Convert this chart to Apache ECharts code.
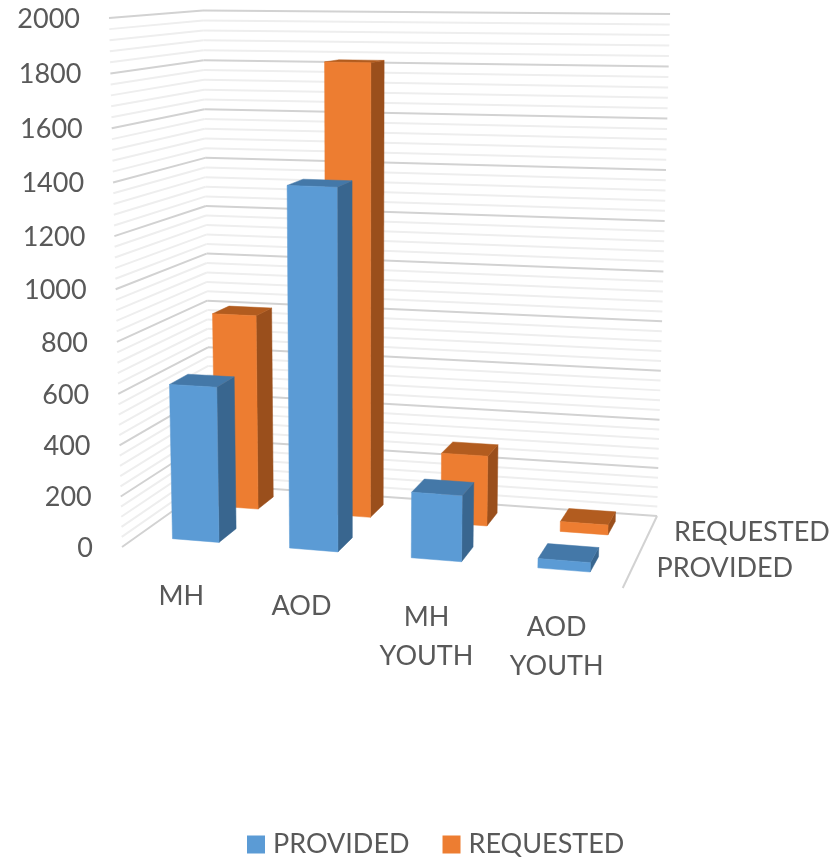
<!DOCTYPE html>
<html><head><meta charset="utf-8">
<style>html,body{margin:0;padding:0;background:#fff}#c{width:833px;height:860px}</style>
<script src="https://cdn.jsdelivr.net/npm/echarts@6/dist/echarts.min.js"></script>
</head><body><div id="c"></div>
<script>
const categories = ['MH', 'AOD', 'MH\nYOUTH', 'AOD\nYOUTH'];
const depthNames = ['PROVIDED', 'REQUESTED'];
const provided = [612, 1390, 255, 36];
const requested = [802, 1812, 285, 40];
const yTicks = [0, 200, 400, 600, 800, 1000, 1200, 1400, 1600, 1800, 2000];
const yMax = 2000;
const minorStep = 40;

const FONT = 'Lato';
const TXT = '#595959';
const MAJOR = '#d2d2d2', MINOR = '#eeeeee';

// Oblique view: floor quad homography, wall height vectors, slight vertical perspective.
const H = {a:452.9,b:114.46,c:122,d:-4.16,e:-1.45,f:547,g:-0.0768,h:0.126};
const HT = {fl:529,fr:560,bl:474,br:502};
const DX = {fl:-13,fr:14,bl:-7,br:13};
const BAR_W = 0.1005, BAR_D = 0.203, U_OFF = [0.0015, -0.002], V_START = [0.161, 0.67];
function lerp2(o,u,v){return (o.fl*(1-u)+o.fr*u)*(1-v)+(o.bl*(1-u)+o.br*u)*v;}
function proj(u,v,t){
  const w=H.g*u+H.h*v+1;
  const x=(H.a*u+H.b*v+H.c)/w, y=(H.d*u+H.e*v+H.f)/w;
  const p=t*0.95/(1-0.05*t);
  return [x+lerp2(DX,u,v)*p, y-lerp2(HT,u,v)*p];
}
// normalised axis positions
function tOf(api,val){return 1-api.coord([0,val])[1]/api.getHeight();}
function uOf(api,val){return api.coord([val,0])[0]/api.getWidth();}
const poly=(pts,fill)=>({type:'polygon',shape:{points:pts},style:{fill,stroke:fill,lineWidth:0.5}});
const seg=(a,b,c,w)=>({type:'line',shape:{x1:a[0],y1:a[1],x2:b[0],y2:b[1]},style:{stroke:c,lineWidth:w}});

function barSeries(name,values,row,front,side,top){
  return {name,type:'custom',coordinateSystem:'cartesian2d',itemStyle:{color:front},silent:true,
    data:values.map((v,i)=>[i,v]),
    encode:{x:0,y:1},clip:false,
    renderItem(params,api){
      const i=api.value(0),t=tOf(api,api.value(1));
      const c=uOf(api,(i+0.5)/categories.length+U_OFF[row]);
      const w=row===1?BAR_W*0.97:BAR_W;
      const u0=c-w/2,u1=c+w/2,v0=V_START[row],v1=v0+BAR_D;
      const A=proj(u0,v0,0),B=proj(u1,v0,0),C=proj(u1,v1,0);
      const A2=proj(u0,v0,t),B2=proj(u1,v0,t),C2=proj(u1,v1,t),D2=proj(u0,v1,t);
      return {type:'group',children:[
        poly([B,C,C2,B2],side),poly([A2,B2,C2,D2],top),poly([A,B,B2,A2],front)]};
    }};
}
const majorSet=new Set(yTicks);
const gridVals=[];for(let y=0;y<=yMax;y+=minorStep)gridVals.push(y);
const option={
  animation:false,
  textStyle:{fontFamily:FONT},
  grid:{left:0,right:0,top:0,bottom:0,containLabel:false},
  xAxis:{type:'value',min:0,max:1,show:false},
  yAxis:{type:'value',min:0,max:yMax,show:false},
  legend:{data:depthNames,left:242,top:826,icon:'rect',itemWidth:18,itemHeight:18,itemGap:33,
    textStyle:{fontFamily:FONT,fontSize:27,color:TXT,padding:[0,0,0,3]}},
  series:[
    {type:'custom',silent:true,clip:false,data:gridVals.map(v=>[0,v]),encode:{x:0,y:1},
     renderItem(p,api){
       const val=api.value(1),t=tOf(api,val),maj=majorSet.has(val);
       return {type:'group',children:[
         seg(proj(0,0,t),proj(0,1,t),maj?MAJOR:MINOR,2),
         seg(proj(0,1,t),proj(1,1,t),maj?MAJOR:MINOR,2)]};
     }},
    {type:'custom',silent:true,clip:false,data:[[0,0]],encode:{x:0,y:1},
     renderItem(p,api){return seg(proj(1,1,0),proj(1,0,0),MAJOR,2);}},
    {type:'custom',silent:true,clip:false,data:yTicks.map(v=>[0,v]),encode:{x:0,y:1},
     renderItem(p,api){
       const val=api.value(1),q=proj(0,0,tOf(api,val));
       return {type:'text',x:q[0]-29,y:q[1]+1,style:{text:String(val),font:'27px '+FONT,fill:TXT,textAlign:'right',textVerticalAlign:'middle'}};
     }},
    {type:'custom',silent:true,clip:false,data:categories.map((c,i)=>[i,0]),encode:{x:0,y:1},
     renderItem(p,api){
       const i=api.value(0),q=proj(uOf(api,(i+0.5)/categories.length),0,0);
       return {type:'text',x:q[0]+1,y:q[1]+25.5,style:{text:categories[i],font:'27px '+FONT,lineHeight:39,fill:TXT,textAlign:'center',textVerticalAlign:'top'}};
     }},
    {type:'custom',silent:true,clip:false,data:depthNames.map((c,i)=>[i,0]),encode:{x:0,y:1},
     renderItem(p,api){
       const i=api.value(0),v=V_START[i]+BAR_D/2,q=proj(1,v,0);
       return {type:'text',x:q[0]+24,y:q[1]+1.5,style:{text:depthNames[i],font:'27px '+FONT,fill:TXT,textAlign:'left',textVerticalAlign:'middle'}};
     }},
    barSeries('REQUESTED',requested,1,'#ed7d31','#9a4f1c','#b25c1f'),
    barSeries('PROVIDED',provided,0,'#5b9bd5','#39668f','#4478a8')
  ]
};
echarts.init(document.getElementById('c'),null,{renderer:'canvas'}).setOption(option);
</script></body></html>
